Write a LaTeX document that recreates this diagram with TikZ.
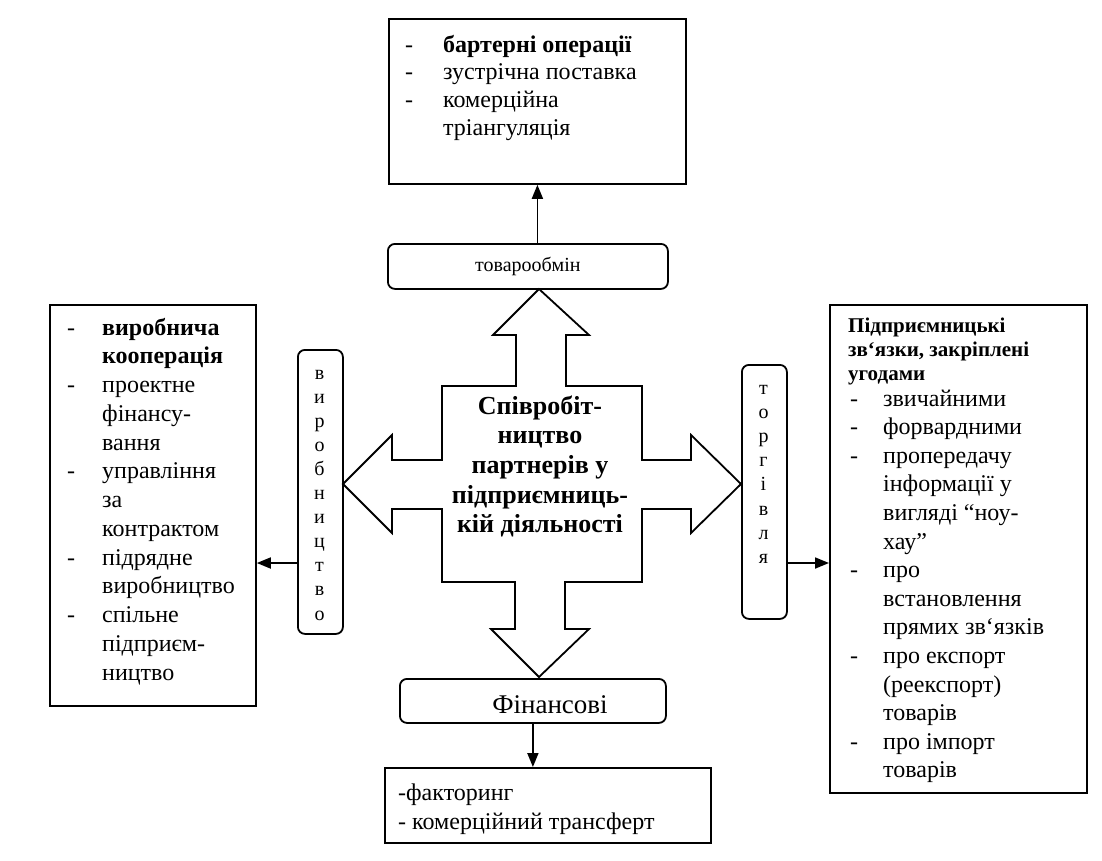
\documentclass[tikz,border=0pt]{standalone}
\usepackage{fontspec}
\setmainfont{Liberation Serif}
\usetikzlibrary{arrows.meta}
\begin{document}
\begin{tikzpicture}[x=1pt,y=-1pt,
  box/.style={draw, line width=1.8pt, inner sep=0pt, anchor=north west},
  rbox/.style={draw, line width=1.8pt, rounded corners=7pt, inner sep=0pt, anchor=north west},
  txt/.style={inner sep=0pt, anchor=base west},
  ctxt/.style={inner sep=0pt, anchor=base},
  arr/.style={line width=1.8pt, -{Triangle[length=14pt,width=11pt]}},
  crossline/.style={draw, line width=1.8pt, line join=miter}
]
\useasboundingbox (0,0) rectangle (1102,860);

% boxes
\node[box, minimum width=297pt, minimum height=165pt] (topbox) at (388,18) {};
\node[box, minimum width=206pt, minimum height=401pt] (leftbox) at (49,304) {};
\node[box, minimum width=257pt, minimum height=488pt] (rightbox) at (829,304) {};
\node[box, minimum width=326pt, minimum height=75pt] (botbox) at (384,767) {};

\node[rbox, minimum width=280pt, minimum height=45pt, font=\fontsize{20}{24}\selectfont] (tovar) at (387,243) {товарообмін};
\node[rbox, minimum width=266pt, minimum height=44pt] (fin) at (399,678) {};
\node[ctxt, font=\fontsize{27}{32}\selectfont] (fintxt) at (550,713) {Фінансові};
\node[rbox, minimum width=45pt, minimum height=284pt] (virob) at (297,349) {};
\node[rbox, minimum width=45pt, minimum height=254pt] (torg) at (741,364) {};

% central cross
\path[crossline] (539,289) -- (589,335) -- (566,335) -- (566,386) -- (642,386) -- (642,460)
  -- (691,460) -- (691,435) -- (741,484) -- (691,533) -- (691,509) -- (642,509)
  -- (642,582) -- (565,582) -- (565,629) -- (589,629) -- (539,677) -- (491,629)
  -- (515,629) -- (515,582) -- (442,582) -- (442,509) -- (392,509) -- (392,533)
  -- (343,484) -- (392,435) -- (392,460) -- (442,460) -- (442,386) -- (516,386)
  -- (516,335) -- (493,335) -- cycle;

\node[ctxt] (coop) at (540,414) {\fontsize{26}{29.7}\selectfont\bfseries
  \begin{tabular}[t]{@{}c@{}}Співробіт-\\ництво\\партнерів у\\підприємниць-\\кій діяльності\end{tabular}};

% vertical labels
\node[ctxt] (virobtxt) at (319.5,379) {\fontsize{20}{24.1}\selectfont
  \begin{tabular}[t]{@{}c@{}}в\\и\\р\\о\\б\\н\\и\\ц\\т\\в\\о\end{tabular}};
\node[ctxt] (torgtxt) at (763.5,394) {\fontsize{20}{24.2}\selectfont
  \begin{tabular}[t]{@{}c@{}}т\\о\\р\\г\\і\\в\\л\\я\end{tabular}};

% box texts
\node[txt] (toptext) at (405,52) {\fontsize{24}{27.7}\selectfont
  \begin{tabular}[t]{@{}p{38pt}@{}l@{}}-&\textbf{бартерні операції}\\-&зустрічна поставка\\-&комерційна\\&тріангуляція\end{tabular}};

\node[txt] (lefttext) at (67,335) {\fontsize{24}{28.75}\selectfont
  \begin{tabular}[t]{@{}p{35pt}@{}l@{}}-&\textbf{виробнича}\\&\textbf{кооперація}\\-&проектне\\&фінансу-\\&вання\\-&управління\\&за\\&контрактом\\-&підрядне\\&виробництво\\-&спільне\\&підприєм-\\&ництво\end{tabular}};

\node[txt] (righthead) at (848,332) {\fontsize{21}{24}\selectfont\bfseries
  \begin{tabular}[t]{@{}l@{}}Підприємницькі\\зв‘язки, закріплені\\угодами\end{tabular}};
\node[txt] (righttext) at (850,406) {\fontsize{24}{28.6}\selectfont
  \begin{tabular}[t]{@{}p{33pt}@{}l@{}}-&звичайними\\-&форвардними\\-&пропередачу\\&інформації у\\&вигляді “ноу-\\&хау”\\-&про\\&встановлення\\&прямих зв‘язків\\-&про експорт\\&(реекспорт)\\&товарів\\-&про імпорт\\&товарів\end{tabular}};

\node[txt] (bottext) at (398,800) {\fontsize{24}{29}\selectfont
  \begin{tabular}[t]{@{}l@{}}-факторинг\\- комерційний трансферт\end{tabular}};

% connectors
\draw[arr] (tovar.north -| topbox.south) -- (topbox.south);
\draw[arr] (virob.west |- 0,563) -- (leftbox.east |- 0,563);
\draw[arr] (torg.east |- 0,563) -- (rightbox.west |- 0,563);
\draw[arr] (fin.south) -- (fin.south |- botbox.north);
\end{tikzpicture}
\end{document}
